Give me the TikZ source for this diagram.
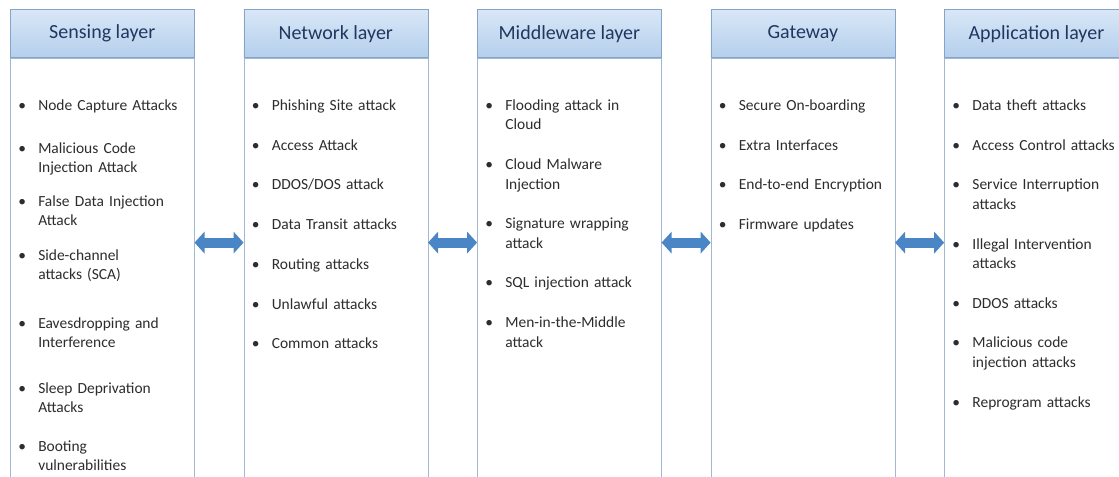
\documentclass[tikz,border=0pt]{standalone}
\usepackage{fontspec}
\setmainfont{Carlito}
\usetikzlibrary{arrows.meta, positioning}

\definecolor{hdtop}{RGB}{216,231,247}
\definecolor{hdbot}{RGB}{180,207,236}
\definecolor{hdline}{RGB}{134,164,200}
\definecolor{boxline}{RGB}{160,184,212}
\definecolor{headtext}{RGB}{31,56,96}
\definecolor{itemtext}{RGB}{45,45,45}
\definecolor{linkblue}{RGB}{74,134,198}

\newcommand{\itm}[2][15.2pt]{\par\vspace{#1}\hangindent=21pt\hangafter=1\noindent\makebox[21pt][l]{\hspace{6pt}\textbullet}#2}

\begin{document}
\begin{tikzpicture}[
			node distance=36.75pt,
			body/.style={rectangle, draw=boxline, fill=white, minimum width=138pt, minimum height=332pt, anchor=north west},
			header/.style={rectangle, draw=hdline, top color=hdtop, bottom color=hdbot, minimum width=138pt, minimum height=36pt, font=\fontsize{15}{18}\selectfont, text=headtext},
			items/.style={text width=160pt, inner sep=0pt, align=left, font=\fontsize{11.6}{14.6}\selectfont, text=itemtext},
			link/.style={{Triangle[length=7.5pt,width=16pt]}-{Triangle[length=7.5pt,width=16pt]}, line width=7.5pt, draw=linkblue}
			]

			\clip (0,0) rectangle (839.25pt,-357.75pt);

			\node[body] (bsense) at (7.5pt,-43.5pt) {};
			\node[body, right=of bsense] (bnet) {};
			\node[body, right=of bnet] (bmid) {};
			\node[body, right=of bmid] (bgate) {};
			\node[body, right=of bgate] (bapp) {};

			\node[header, above=0pt of bsense] (hsense) {Sensing layer};
			\node[header, above=0pt of bnet] (hnet) {Network layer};
			\node[header, above=0pt of bmid] (hmid) {Middleware layer};
			\node[header, above=0pt of bgate] (hgate) {Gateway};
			\node[header, above=0pt of bapp] (happ) {Application layer};

			\node[items, below right=24.5pt and 0pt of bsense.north west] (lsense) {
				\itm[0pt]{Node Capture Attacks}
				\itm[17.6pt]{Malicious Code\newline Injection Attack}
				\itm[10.5pt]{False Data Injection\newline Attack}
				\itm[11.3pt]{Side-channel\newline attacks (SCA)}
				\itm[21.8pt]{Eavesdropping and\newline Interference}
				\itm[19.5pt]{Sleep Deprivation\newline Attacks}
				\itm[14.3pt]{Booting\newline vulnerabilities}\par};
			\node[items, below right=24.5pt and 0pt of bnet.north west] (lnet) {
				\itm[0pt]{Phishing Site attack}
				\itm{Access Attack}
				\itm{DDOS/DOS attack}
				\itm{Data Transit attacks}
				\itm{Routing attacks}
				\itm{Unlawful attacks}
				\itm{Common attacks}\par};
			\node[items, below right=24.5pt and 0pt of bmid.north west] (lmid) {
				\itm[0pt]{Flooding attack in\newline Cloud}
				\itm{Cloud Malware\newline Injection}
				\itm{Signature wrapping\newline attack}
				\itm{SQL injection attack}
				\itm{Men-in-the-Middle\newline attack}\par};
			\node[items, below right=24.5pt and 0pt of bgate.north west] (lgate) {
				\itm[0pt]{Secure On-boarding}
				\itm{Extra Interfaces}
				\itm{End-to-end Encryption}
				\itm{Firmware updates}\par};
			\node[items, below right=24.5pt and 0pt of bapp.north west] (lapp) {
				\itm[0pt]{Data theft attacks}
				\itm{Access Control attacks}
				\itm{Service Interruption\newline attacks}
				\itm{Illegal Intervention\newline attacks}
				\itm{DDOS attacks}
				\itm{Malicious code\newline injection attacks}
				\itm{Reprogram attacks}\par};

			\draw[link] ([yshift=27.75pt]bsense.east) -- ([yshift=27.75pt]bnet.west);
			\draw[link] ([yshift=27.75pt]bnet.east) -- ([yshift=27.75pt]bmid.west);
			\draw[link] ([yshift=27.75pt]bmid.east) -- ([yshift=27.75pt]bgate.west);
			\draw[link] ([yshift=27.75pt]bgate.east) -- ([yshift=27.75pt]bapp.west);

		\end{tikzpicture}
\end{document}
